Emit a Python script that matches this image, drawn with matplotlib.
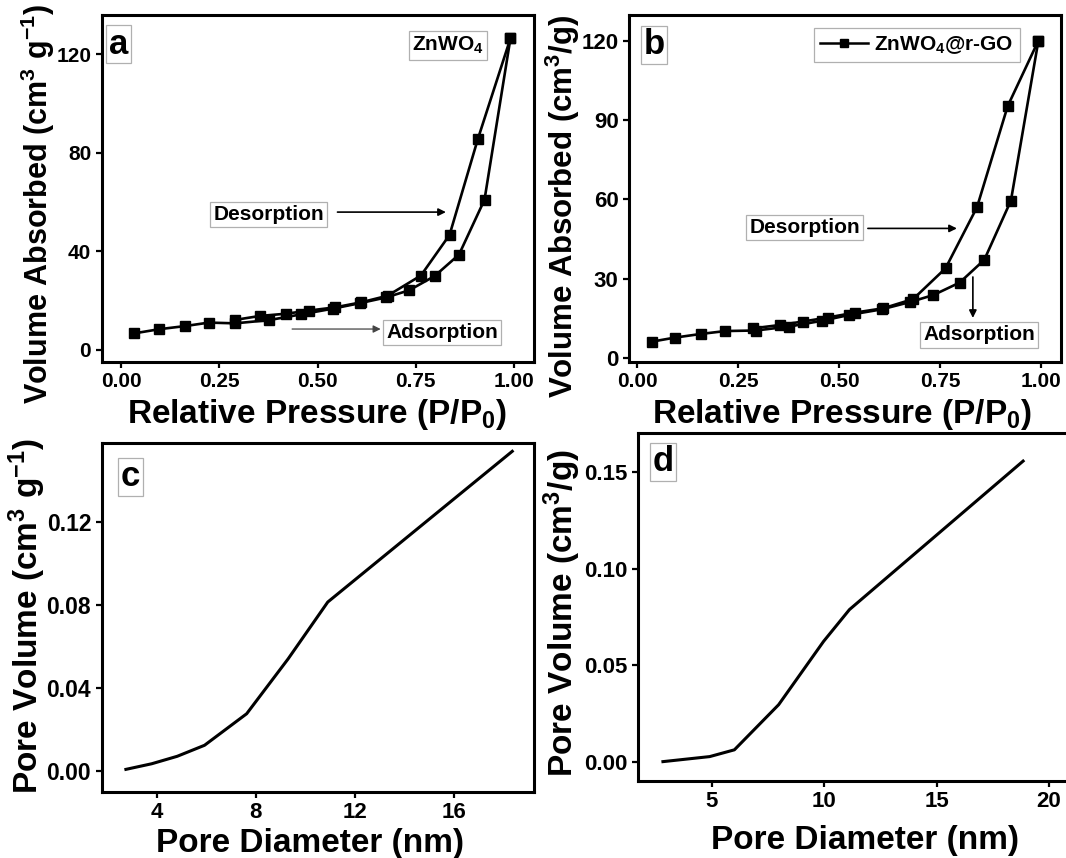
import numpy as np
import matplotlib
matplotlib.use("Agg")
import matplotlib.pyplot as plt
from matplotlib.lines import Line2D

plt.rcParams["font.family"] = ["Liberation Sans", "DejaVu Sans"]
plt.rcParams["font.weight"] = "bold"
plt.rcParams["mathtext.fontset"] = "custom"
plt.rcParams["mathtext.rm"] = "Liberation Sans:bold"
plt.rcParams["mathtext.bf"] = "Liberation Sans:bold"
plt.rcParams["mathtext.it"] = "Liberation Sans:bold"
plt.rcParams["mathtext.default"] = "bf"

# (a) ZnWO4 N2 isotherm
a_ads_p = [0.032, 0.096, 0.163, 0.223, 0.290, 0.376, 0.457, 0.540, 0.608, 0.674, 0.733, 0.798, 0.860, 0.925, 0.991]
a_ads_v = [6.7, 8.4, 9.7, 11.1, 10.8, 12.1, 14.4, 16.8, 19.0, 21.3, 24.2, 30.0, 38.7, 61.0, 126.5]
a_des_p = [0.991, 0.908, 0.836, 0.763, 0.678, 0.610, 0.545, 0.479, 0.419, 0.353, 0.290]
a_des_v = [126.5, 85.6, 46.7, 30.2, 22.0, 19.3, 17.3, 16.0, 14.7, 13.8, 12.2]

# (b) ZnWO4@r-GO N2 isotherm
b_ads_p = [0.037, 0.093, 0.158, 0.219, 0.294, 0.377, 0.459, 0.526, 0.606, 0.675, 0.734, 0.799, 0.860, 0.926, 0.994]
b_ads_v = [6.3, 7.8, 9.2, 10.3, 10.5, 12.0, 14.2, 16.4, 18.5, 21.2, 23.9, 28.6, 37.2, 59.6, 120.0]
b_des_p = [0.994, 0.918, 0.842, 0.764, 0.684, 0.610, 0.541, 0.472, 0.411, 0.355, 0.286]
b_des_v = [120.0, 95.3, 57.1, 34.0, 22.4, 18.9, 17.3, 15.4, 13.9, 12.6, 11.3]

# (c) ZnWO4 pore volume
c_d = [2.76, 3.8, 4.83, 5.93, 7.63, 9.3, 10.9, 18.34]
c_v = [0.0008, 0.0035, 0.0071, 0.0124, 0.0276, 0.054, 0.0814, 0.154]

# (d) ZnWO4@r-GO pore volume
d_d = [2.82, 4.9, 6.0, 7.97, 9.97, 11.12, 18.85]
d_v = [0.0003, 0.0029, 0.0064, 0.0297, 0.0624, 0.0788, 0.1555]

W, H = 1066, 858


def px_axes(fig, left, top, right, bottom):
    return fig.add_axes([left / W, (H - bottom) / H, (right - left) / W, (bottom - top) / H])


def style(ax, xsize, ysize):
    for s in ax.spines.values():
        s.set_linewidth(2.2)
    ax.tick_params(direction="out", length=4.5, width=1.6, top=False, right=False, pad=3)
    ax.tick_params(axis="x", labelsize=xsize)
    ax.tick_params(axis="y", labelsize=ysize)


def tag(ax, s, x, y, size=25, pad=0.08):
    ax.text(x, y, s, transform=ax.transAxes, fontsize=size, fontweight="bold",
            ha="center", va="center",
            bbox=dict(boxstyle="square,pad=%g" % pad, fc="white", ec="#b0b0b0", lw=0.9))


def arrow(ax, start, end, color="k", lw=1.2):
    ax.annotate("", xy=end, xytext=start, xycoords="axes fraction",
                textcoords="axes fraction",
                arrowprops=dict(arrowstyle="-|>", color=color, lw=lw,
                                mutation_scale=11, shrinkA=0, shrinkB=0))


fig = plt.figure(figsize=(W / 100, H / 100), dpi=100)

# ---- a
ax = px_axes(fig, 101.6, 15, 533.6, 362)
ax.plot(a_ads_p, a_ads_v, "-s", color="k", lw=1.9, ms=7.3)
ax.plot(a_des_p, a_des_v, "-s", color="k", lw=1.9, ms=7.3)
ax.set_xlim(-0.05, 1.05)
ax.set_ylim(-4.9, 136)
ax.set_xticks([0, 0.25, 0.5, 0.75, 1.0])
ax.set_xticklabels(["0.00", "0.25", "0.50", "0.75", "1.00"])
ax.set_yticks([0, 40, 80, 120])
style(ax, 15, 15)
ax.set_xlabel("Relative Pressure (P/P$_0$)", fontsize=24, fontweight="bold")
ax.set_ylabel("Volume Absorbed (cm$^3$ g$^{-1}$)", fontsize=22, fontweight="bold")
ax.xaxis.set_label_coords(0.499, -0.10)
ax.yaxis.set_label_coords(-0.103, 0.455)
tag(ax, "a", 0.040, 0.916)
tag(ax, "ZnWO$_4$", 0.802, 0.912, size=15, pad=0.17)
tag(ax, "Desorption", 0.387, 0.424, size=15, pad=0.15)
arrow(ax, (0.546, 0.432), (0.797, 0.432))
tag(ax, "Adsorption", 0.788, 0.086, size=15, pad=0.15)
arrow(ax, (0.441, 0.095), (0.646, 0.095), color="#444444", lw=0.9)

# ---- b
ax = px_axes(fig, 629, 15, 1061, 362)
ax.plot(b_ads_p, b_ads_v, "-s", color="k", lw=1.9, ms=7.3)
ax.plot(b_des_p, b_des_v, "-s", color="k", lw=1.9, ms=7.3)
ax.set_xlim(-0.02, 1.05)
ax.set_ylim(-1.4, 129.7)
ax.set_xticks([0, 0.25, 0.5, 0.75, 1.0])
ax.set_xticklabels(["0.00", "0.25", "0.50", "0.75", "1.00"])
ax.set_yticks([0, 30, 60, 90, 120])
style(ax, 15, 16)
ax.set_xlabel("Relative Pressure (P/P$_0$)", fontsize=24, fontweight="bold")
ax.set_ylabel("Volume Absorbed (cm$^3$/g)", fontsize=22.5, fontweight="bold")
ax.xaxis.set_label_coords(0.494, -0.10)
ax.yaxis.set_label_coords(-0.109, 0.45)
tag(ax, "b", 0.058, 0.914)
proxy = Line2D([], [], color="k", lw=1.8, marker="s", ms=5.5)
leg = ax.legend([proxy], ["ZnWO$_4$@r-GO"], loc="upper right", bbox_to_anchor=(0.905, 0.963),
                borderaxespad=0, fancybox=False, edgecolor="#b0b0b0", framealpha=1,
                fontsize=15, handlelength=2.3, handletextpad=0.3, borderpad=0.3)
leg.get_frame().set_linewidth(0.9)
tag(ax, "Desorption", 0.407, 0.388, size=15, pad=0.15)
arrow(ax, (0.553, 0.385), (0.759, 0.385))
tag(ax, "Adsorption", 0.811, 0.078, size=15, pad=0.15)
arrow(ax, (0.796, 0.245), (0.796, 0.127))

# ---- c
ax = px_axes(fig, 101.6, 443, 533.6, 792)
ax.plot(c_d, c_v, "-", color="k", lw=2.2)
ax.set_xlim(1.78, 19.2)
ax.set_ylim(-0.0101, 0.158)
ax.set_xticks([4, 8, 12, 16])
ax.set_yticks([0, 0.04, 0.08, 0.12])
ax.set_yticklabels(["0.00", "0.04", "0.08", "0.12"])
style(ax, 16, 16.5)
ax.set_xlabel("Pore Diameter (nm)", fontsize=24, fontweight="bold")
ax.set_ylabel("Pore Volume (cm$^3$ g$^{-1}$)", fontsize=24, fontweight="bold")
ax.xaxis.set_label_coords(0.482, -0.103)
ax.yaxis.set_label_coords(-0.124, 0.504)
tag(ax, "c", 0.066, 0.903)

# ---- d
ax = px_axes(fig, 638, 433, 1075, 781)
ax.plot(d_d, d_v, "-", color="k", lw=2.2)
ax.set_xlim(1.71, 21.16)
ax.set_ylim(-0.0097, 0.170)
ax.set_xticks([5, 10, 15, 20])
ax.set_yticks([0, 0.05, 0.10, 0.15])
ax.set_yticklabels(["0.00", "0.05", "0.10", "0.15"])
style(ax, 16, 16)
ax.set_xlabel("Pore Diameter (nm)", fontsize=24, fontweight="bold")
ax.set_ylabel("Pore Volume (cm$^3$/g)", fontsize=24, fontweight="bold")
ax.xaxis.set_label_coords(0.519, -0.126)
ax.yaxis.set_label_coords(-0.127, 0.483)
tag(ax, "d", 0.057, 0.917)

fig.savefig("out.png", dpi=100)
